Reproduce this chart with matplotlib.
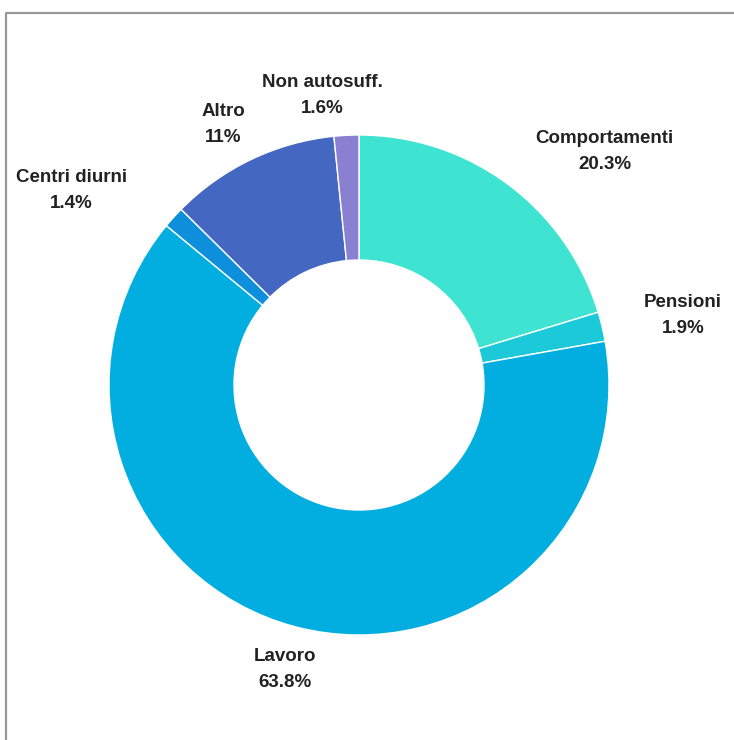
import numpy as np
import matplotlib
matplotlib.use("Agg")
import matplotlib.pyplot as plt

labels = ["Comportamenti", "Pensioni", "Lavoro", "Centri diurni", "Altro", "Non autosuff."]
values = [20.3, 1.9, 63.8, 1.4, 11.0, 1.6]
pct_text = ["20.3%", "1.9%", "63.8%", "1.4%", "11%", "1.6%"]
colors = ["#3ee3d1", "#1cc9d9", "#02aedf", "#0d8fdb", "#4468c2", "#8a80d2"]

# label nudges in pixels from the outer edge at mid-angle
offsets = [(97, 33), (81, 11), (-10, -43), (-102, 27), (-28, 35), (-24, 40)]

W, H = 734, 740
cx, cy = 359, H - 385
R = 250

fig = plt.figure(figsize=(W / 100, H / 100), dpi=100)
ax = fig.add_axes([0, 0, 1, 1])

# frame (cropped screenshot look)
ax.plot([6, 6, W + 5], [-5, H - 13, H - 13], color="#999999", lw=1.6)

wedges, _ = ax.pie(values, colors=colors, startangle=90, counterclock=False,
                   center=(cx, cy), radius=R, frame=True,
                   wedgeprops=dict(width=R * 0.5, edgecolor="white", linewidth=1))
ax.set_xlim(0, W)
ax.set_ylim(0, H)
ax.axis("off")

for w, lab, pct, (dx, dy) in zip(wedges, labels, pct_text, offsets):
    ang = np.deg2rad((w.theta1 + w.theta2) / 2)
    x = cx + R * np.cos(ang)
    y = cy + R * np.sin(ang)
    ax.annotate(lab + "\n" + pct, (x, y), xytext=(dx, dy), textcoords="offset pixels",
                ha="center", va="center", fontsize=13.5, fontweight="bold",
                family="Liberation Sans", color="#222222", linespacing=1.7)

fig.savefig("out.png", dpi=100)
